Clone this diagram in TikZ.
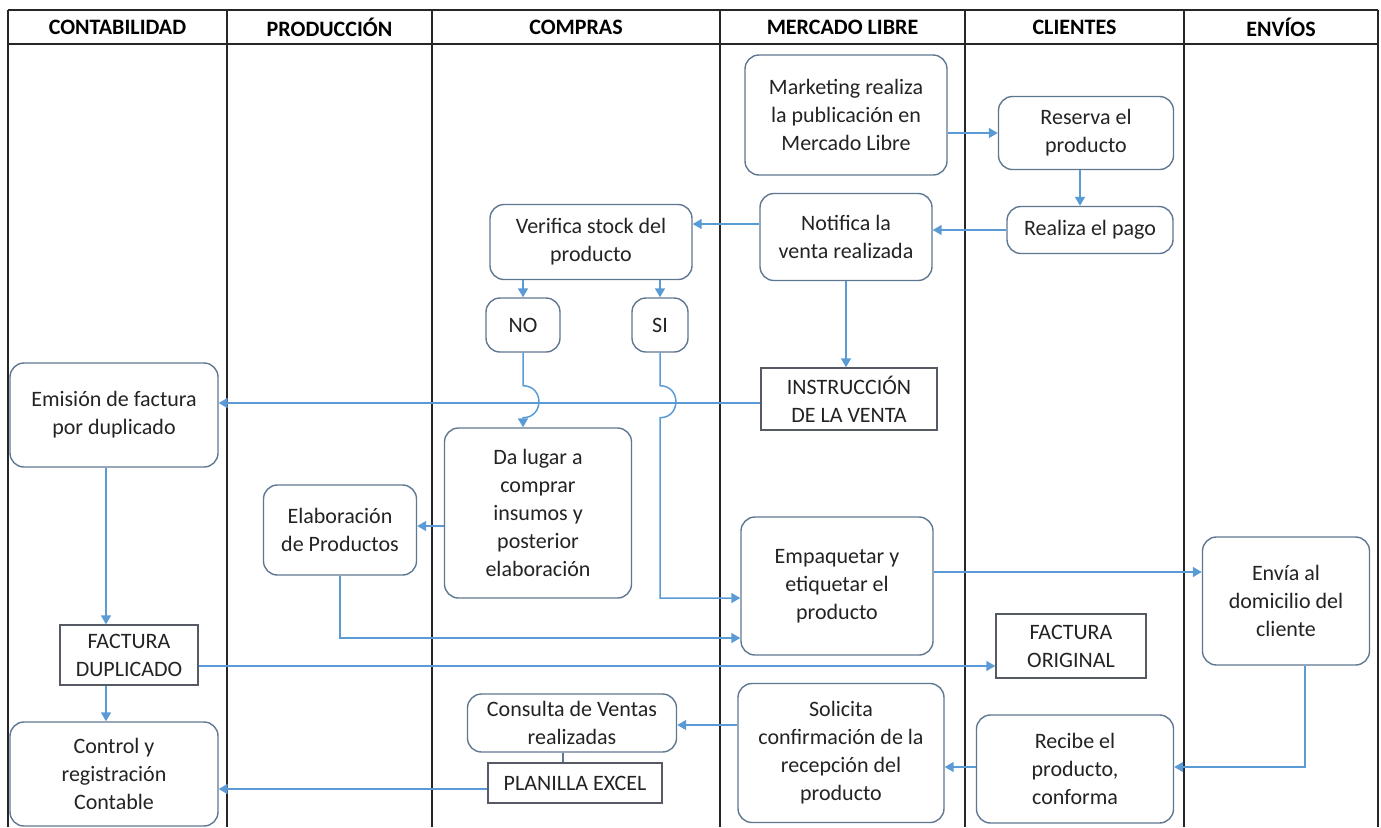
\documentclass[tikz,border=0pt]{standalone}
\usepackage{fontspec}
\setmainfont{Carlito}
\usetikzlibrary{positioning,arrows.meta}
\definecolor{flecha}{RGB}{91,155,213}
\definecolor{borde}{RGB}{95,120,145}
\definecolor{bordedoc}{RGB}{85,90,100}
\definecolor{texto}{RGB}{35,35,35}

\begin{document}
\begin{tikzpicture}
[x=0.5pt, y=-0.5pt,
 proc/.style={draw=borde, line width=0.7pt, rounded corners=7pt, align=center, text=texto, inner sep=1pt,
   font=\fontsize{11}{14}\selectfont},
 doc/.style={draw=bordedoc, line width=0.7pt, align=center, text=texto, inner sep=1pt,
   font=\fontsize{11}{14}\selectfont},
 head/.style={font=\bfseries\fontsize{11}{13}\selectfont, text=black},
 lane/.style={line width=0.85pt, draw=black!85},
 flow/.style={-{Triangle[width=5pt,length=4.5pt]}, line width=0.75pt, draw=flecha},
 link/.style={line width=0.75pt, draw=borde}]
\useasboundingbox (0,0) rectangle (1381,827);
\draw[lane] (8,10) -- (1378,10);
\draw[lane] (8,44) -- (1378,44);
\foreach \x in {8,227,432,720,965,1184,1378}
  \draw[lane] (\x,10) -- (\x,827);
\foreach \x/\t [count=\i] in {117.5/CONTABILIDAD, 329.5/PRODUCCIÓN, 576/COMPRAS,
    842.5/MERCADO LIBRE, 1074.5/CLIENTES, 1281/ENVÍOS}
  \node[head] (head\i) at (\x,27) {\t};

\node[proc, minimum width=101pt, minimum height=60pt] (mkt) at (846,115)
  {Marketing realiza\\la publicación en\\Mercado Libre};
\node[proc, minimum width=87.5pt, minimum height=36.5pt] (res) at (1086,133) {Reserva el\\producto};
\node[proc, minimum width=83pt, minimum height=23.5pt] (pago) at (1090,230) {Realiza el pago};
\node[proc, minimum width=86pt, minimum height=43.5pt] (notif) at (846,237) {Notifica la\\venta realizada};
\node[proc, minimum width=101pt, minimum height=37.5pt] (verif) at (591,242) {Verifica stock del\\producto};
\node[proc, minimum width=37pt, minimum height=27pt] (no) at (523,325) {NO};
\node[proc, minimum width=28pt, minimum height=27pt] (si) at (660,325) {SI};
\node[doc, minimum width=88pt, minimum height=31pt] (instr) at (849,399) {INSTRUCCIÓN\\DE LA VENTA};
\node[proc, minimum width=104pt, minimum height=52pt] (emis) at (114,415) {Emisión de factura\\por duplicado};
\node[proc, minimum width=93.5pt, minimum height=85pt] (lugar) at (538,513)
  {Da lugar a\\comprar\\insumos y\\posterior\\elaboración};
\node[proc, minimum width=76.5pt, minimum height=45pt] (elab) at (340,530) {Elaboración\\de Productos};
\node[proc, minimum width=96pt, minimum height=69pt] (emp) at (837,586) {Empaquetar y\\etiquetar el\\producto};
\node[proc, minimum width=83.5pt, minimum height=64pt] (envia) at (1286,601) {Envía al\\domicilio del\\cliente};
\node[doc, minimum width=69pt, minimum height=30pt] (fdup) at (129,655) {FACTURA\\DUPLICADO};
\node[doc, minimum width=75pt, minimum height=32pt] (forig) at (1071,646) {FACTURA\\ORIGINAL};
\node[proc, minimum width=104.5pt, minimum height=29pt] (consulta) at (572,723) {Consulta de Ventas\\realizadas};
\node[doc, minimum width=87pt, minimum height=20pt] (planilla) at (575,783) {PLANILLA EXCEL};
\node[proc, minimum width=104pt, minimum height=52pt] (control) at (114,774) {Control y\\registración\\Contable};
\node[proc, minimum width=103pt, minimum height=69.5pt] (solicita) at (841,753)
  {Solicita\\confirmación de la\\recepción del\\producto};
\node[proc, minimum width=98.5pt, minimum height=54pt] (recibe) at (1075,769) {Recibe el\\producto,\\conforma};

\coordinate (yv) at (0,224);
\coordinate (yi) at (0,403);
\coordinate (yd) at (0,526);
\coordinate (sy) at (0,598);
\coordinate (ey) at (0,638);
\coordinate (ye) at (0,572);
\coordinate (yf) at (0,666);
\coordinate (cx) at (106,0);
\coordinate (er) at (1305,767);
\coordinate (sc) at (0,725);
\coordinate (px) at (563,789);

\draw[flow] (mkt.east |- res.west) -- (res.west);
\draw[flow] (res.south -| 1080,0) -- (pago.north -| 1080,0);
\draw[flow] (pago.west) -- (notif.east |- pago.west);
\draw[flow] (notif.west |- yv) -- (verif.east |- yv);
\draw[flow] (verif.south -| no.north) -- (no.north);
\draw[flow] (verif.south -| si.north) -- (si.north);
\draw[flow] (notif.south) -- (instr.north -| notif.south);
\draw[flow] (instr.west |- yi) -- (emis.east |- yi);
\draw[flow] (no.south) -- ++(0,33) to[out=0,in=0,looseness=1.7] ++(0,32) -- (no.south |- lugar.north);
\draw[flow] (si.south) -- ++(0,33) to[out=0,in=0,looseness=1.7] ++(0,32) -- (si.south |- sy) -- (emp.west |- sy);
\draw[flow] (lugar.west |- yd) -- (elab.east |- yd);
\draw[flow] (elab.south) -- (elab.south |- ey) -- (emp.west |- ey);
\draw[flow] (emp.east |- ye) -- (envia.west |- ye);
\draw[flow] (emis.south -| cx) -- (fdup.north -| cx);
\draw[flow] (fdup.south -| cx) -- (control.north -| cx);
\draw[flow] (fdup.east |- yf) -- (forig.west |- yf);
\draw[flow] (envia.south -| er) -- (er) -- (recibe.east |- er);
\draw[flow] (recibe.west |- er) -- (solicita.east |- er);
\draw[flow] (solicita.west |- sc) -- (consulta.east |- sc);
\draw[link] (consulta.south -| px) -- (planilla.north -| px);
\draw[flow] (planilla.west |- px) -- (control.east |- px);
\end{tikzpicture}
\end{document}
